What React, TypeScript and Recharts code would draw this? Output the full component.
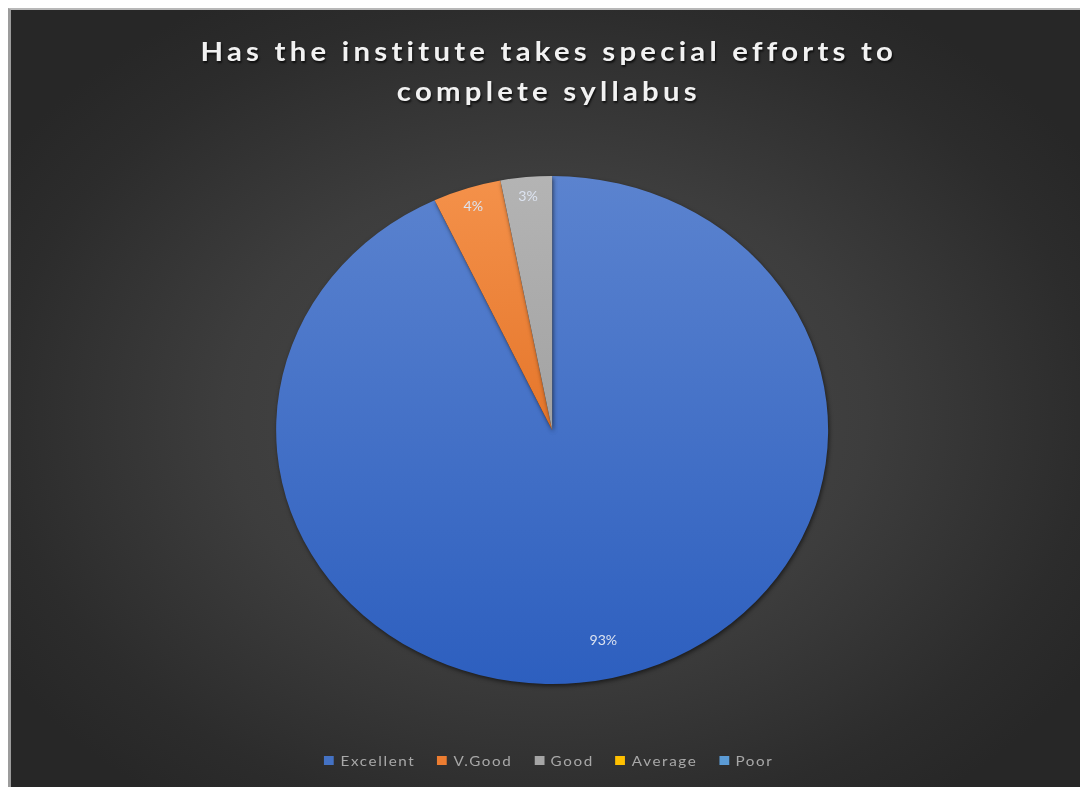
import React from "react";
import { PieChart, Pie, Cell, Legend } from "recharts";

const categories = ["Excellent", "V.Good", "Good", "Average", "Poor"];
const shares = [93, 4, 3, 0, 0];
const sliceColors = ["#4472C4", "#ED7D31", "#A5A5A5", "#FFC000", "#5B9BD5"];
const gradientStops = [
  ["#5b83cf", "#2d5fbf"],
  ["#f4914a", "#e5762b"],
  ["#b4b4b4", "#a2a2a2"],
  ["#ffc82a", "#f0b400"],
  ["#6aa6dc", "#4f8fcc"],
];
const title = ["Has the institute takes special efforts to", "complete syllabus"];

const data = categories.map((name, i) => ({ name, value: shares[i] }));

// Excel stretched the picture sideways, so the chart is drawn narrower and widened
const STRETCH = 1.0866;
const W = 986;
const H = 777;

const RAD = Math.PI / 180;

function renderLabel(props: any) {
  const { cx, cy, midAngle, outerRadius, value, percent } = props;
  if (!value) return null;
  // inside-end labels, the big slice sits a bit deeper like Excel does
  const r = outerRadius * (percent > 0.5 ? 0.85 : 0.925);
  const x = cx + r * Math.cos(-midAngle * RAD);
  const y = cy + r * Math.sin(-midAngle * RAD);
  return (
    <text
      x={x}
      y={y}
      fill="#dce3f0"
      fontSize={13}
      fontFamily="Lato, sans-serif"
      textAnchor="middle"
      dominantBaseline="central"
    >
      {`${value}%`}
    </text>
  );
}

function renderLegend() {
  return (
    <div
      style={{
        display: "flex",
        justifyContent: "center",
        alignItems: "center",
        fontFamily: "Lato, sans-serif",
        fontSize: 14,
        letterSpacing: 1.5,
        color: "#a8a8a8",
      }}
    >
      {categories.map((c, i) => (
        <div key={c} style={{ display: "flex", alignItems: "center", marginRight: i < categories.length - 1 ? 20 : 0 }}>
          <span
            style={{
              display: "inline-block",
              width: 9,
              height: 9,
              background: sliceColors[i],
              marginRight: 6,
            }}
          />
          <span>{c}</span>
        </div>
      ))}
    </div>
  );
}

export default function App() {
  return (
    <>
      <style>{"body{margin:0;overflow:hidden}"}</style>
      <div
        style={{
          position: "absolute",
          left: 8,
          top: 8,
          width: 1072,
          height: 779,
          boxSizing: "border-box",
          borderLeft: "3px solid #9c9c9c",
          borderTop: "2px solid #b8b8b8",
          overflow: "hidden",
          background:
            "radial-gradient(ellipse 60% 62% at 50% 52%, #4b4b4b 0%, #3d3d3d 50%, #2c2c2c 85%, #272727 100%)",
        }}
      >
        <div
          style={{
            position: "absolute",
            left: 0,
            top: 0,
            width: W,
            height: H,
            transform: `scaleX(${STRETCH})`,
            transformOrigin: "0 0",
          }}
        >
          <div
            style={{
              position: "absolute",
              top: 21,
              left: 2,
              width: W,
              textAlign: "center",
              fontFamily: "Lato, sans-serif",
              fontWeight: 700,
              fontSize: 27,
              lineHeight: "40px",
              letterSpacing: 3.9,
              color: "#f2f2f2",
              textShadow: "1px 2px 2px rgba(0,0,0,0.7)",
            }}
          >
            {title.map((t) => (
              <div key={t}>{t}</div>
            ))}
          </div>
          <PieChart width={W} height={H}>
            <defs>
              {gradientStops.map((g, i) => (
                <linearGradient key={i} id={`slice${i}`} x1="0" y1="0" x2="0" y2="1">
                  <stop offset="0%" stopColor={g[0]} />
                  <stop offset="100%" stopColor={g[1]} />
                </linearGradient>
              ))}
            </defs>
            <Pie
              data={data}
              dataKey="value"
              nameKey="name"
              cx={493}
              cy={415}
              outerRadius={254}
              startAngle={90}
              endAngle={-270}
              stroke="none"
              label={renderLabel}
              labelLine={false}
              isAnimationActive={false}
              style={{ filter: "drop-shadow(1px 2px 2px rgba(0,0,0,0.55))" }}
            >
              {data.map((d, i) => (
                <Cell key={d.name} fill={`url(#slice${i})`} />
              ))}
            </Pie>
            <Legend
              content={renderLegend}
              wrapperStyle={{ position: "absolute", top: 742, left: 2, width: W }}
            />
          </PieChart>
        </div>
      </div>
    </>
  );
}
